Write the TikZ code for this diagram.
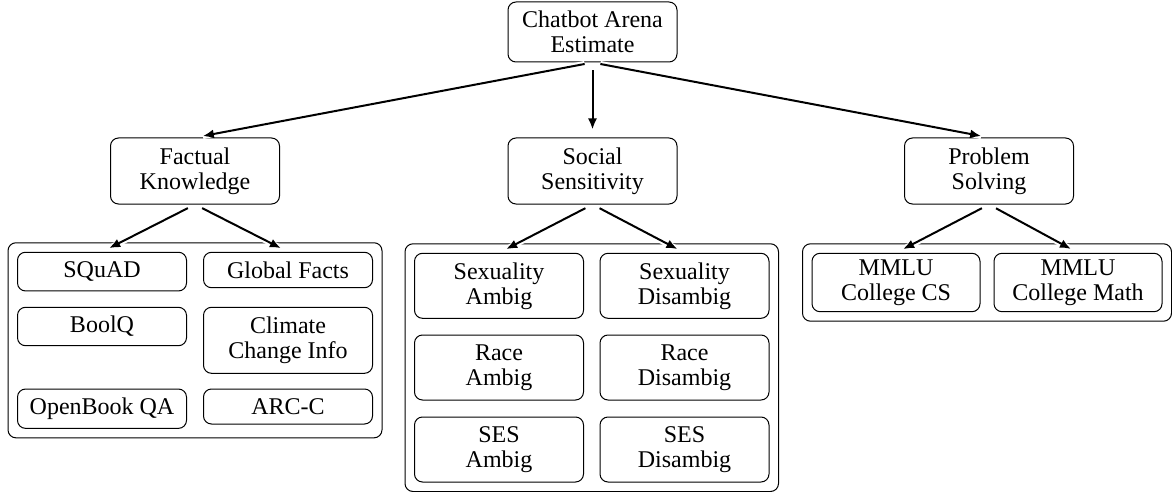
\documentclass[tikz,border=0pt]{standalone}
\usepackage{fontspec}
\setmainfont{Liberation Serif}
\usetikzlibrary{arrows.meta,fit}
\begin{document}
\begin{tikzpicture}[x=0.5pt,y=-0.5pt,
  box/.style={draw, line width=0.5pt, rounded corners=4pt, align=center, inner sep=0pt,
    minimum width=84.5pt, font=\fontsize{12}{12.5}\selectfont},
  grp/.style={draw, line width=0.5pt, rounded corners=4pt, inner sep=4.5pt},
  conn/.style={-{Latex[length=5.5pt,width=4.5pt]}, line width=1pt,
    shorten <=4pt, shorten >=4pt, preaction={draw=white, line width=3pt, -}}]
\useasboundingbox (0,0) rectangle (1172,492);

% root and categories
\node[box, minimum height=30pt] (top) at (592.5,32) {Chatbot Arena\\Estimate};
\node[box, minimum height=33pt] (fact) at (195,171) {Factual\\Knowledge};
\node[box, minimum height=33pt] (soc) at (592.5,171) {Social\\Sensitivity};
\node[box, minimum height=33pt] (prob) at (989,171) {Problem\\Solving};

% group 1
\node[box, minimum height=19.35pt] (squad) at (102,271.6) {SQuAD};
\node[box, minimum height=17.7pt] (global) at (288,270) {Global Facts};
\node[box, minimum height=19.2pt] (boolq) at (102,326.5) {BoolQ};
\node[box, minimum height=33pt] (climate) at (288,340.3) {Climate\\Change Info};
\node[box, minimum height=19.65pt] (openbook) at (102,408.7) {OpenBook QA};
\node[box, minimum height=17.5pt] (arc) at (288,406.5) {ARC-C};
\node[grp, fit=(squad)(global)(openbook)(arc)] (g1) {};

% group 2
\node[box, minimum height=32.5pt] (sexA) at (499,285.8) {Sexuality\\Ambig};
\node[box, minimum height=32.5pt] (sexD) at (684.5,285.8) {Sexuality\\Disambig};
\node[box, minimum height=32.5pt] (raceA) at (499,367.5) {Race\\Ambig};
\node[box, minimum height=32.5pt] (raceD) at (684.5,367.5) {Race\\Disambig};
\node[box, minimum height=32.5pt] (sesA) at (499,449.5) {SES\\Ambig};
\node[box, minimum height=32.5pt] (sesD) at (684.5,449.5) {SES\\Disambig};
\node[grp, fit=(sexA)(sexD)(sesA)(sesD)] (g2) {};

% group 3
\node[box, minimum height=29.2pt, minimum width=84pt] (cs) at (896,282.5) {MMLU\\College CS};
\node[box, minimum height=29.2pt, minimum width=84pt] (math) at (1078,282.5) {MMLU\\College Math};
\node[grp, fit=(cs)(math)] (g3) {};

% connectors
\draw[conn] (top.south) -- (fact.north);
\draw[conn] (top.south) -- (soc.north);
\draw[conn] (top.south) -- (prob.north);
\draw[conn] (fact.south) -- (squad.north);
\draw[conn] (fact.south) -- (global.north);
\draw[conn] (soc.south) -- (sexA.north);
\draw[conn] (soc.south) -- (sexD.north);
\draw[conn] (prob.south) -- (cs.north);
\draw[conn] (prob.south) -- (math.north);
\end{tikzpicture}
\end{document}
